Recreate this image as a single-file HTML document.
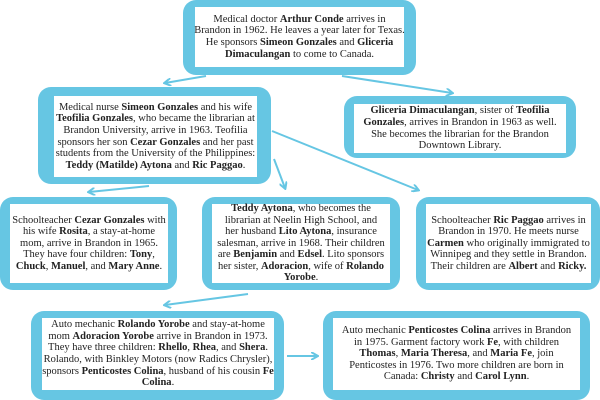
<!DOCTYPE html>
<html><head><style>
body{margin:0;width:600px;height:400px;background:#fff;position:relative;overflow:hidden;font-family:"Liberation Serif",serif;}
.b{position:absolute;background:#66c6e3;border-radius:13px;box-sizing:border-box;}
.i{position:absolute;background:#fff;display:flex;align-items:center;justify-content:center;text-align:center;font-size:10.5px;line-height:11.6px;color:#222;box-sizing:border-box;white-space:nowrap;}
.i span{display:block;}
b{font-weight:bold;}
svg{position:absolute;left:0;top:0;}
</style></head><body>
<svg width="600" height="400">
<defs><marker id="a" markerWidth="8" markerHeight="8" refX="6" refY="4" orient="auto" markerUnits="userSpaceOnUse"><path d="M0,0 L7,4 L0,8" fill="none" stroke="#66c6e3" stroke-width="2"/></marker></defs>
<g stroke="#66c6e3" stroke-width="2" fill="none" marker-end="url(#a)">
<line x1="206" y1="76" x2="165" y2="83"/>
<line x1="342" y1="76" x2="452" y2="93"/>
<line x1="272" y1="131" x2="418" y2="190"/>
<line x1="274" y1="159" x2="285" y2="188"/>
<line x1="149" y1="186" x2="89" y2="192"/>
<line x1="248" y1="294" x2="165" y2="305"/>
<line x1="287" y1="356" x2="317" y2="356"/>
</g></svg>

<div class="b" style="left:183px;top:0;width:233px;height:75px"></div>
<div class="i" style="left:195px;top:7px;width:209px;height:60px"><span>Medical doctor <b>Arthur Conde</b> arrives in<br>Brandon in 1962. He leaves a year later for Texas.<br>He sponsors <b>Simeon Gonzales</b> and <b>Gliceria</b><br><b>Dimaculangan</b> to come to Canada.</span></div>

<div class="b" style="left:38px;top:87px;width:233px;height:97px"></div>
<div class="i" style="left:54px;top:96px;width:203px;height:81px"><span>Medical nurse <b>Simeon Gonzales</b> and his wife<br><b>Teofilia Gonzales</b>, who became the librarian at<br>Brandon University, arrive in 1963. Teofilia<br>sponsors her son <b>Cezar Gonzales</b> and her past<br>students from the University of the Philippines:<br><b>Teddy (Matilde) Aytona</b> and <b>Ric Paggao</b>.</span></div>

<div class="b" style="left:344px;top:96px;width:232px;height:62px"></div>
<div class="i" style="left:354px;top:104px;width:212px;height:49px"><span><b>Gliceria Dimaculangan</b>, sister of <b>Teofilia</b><br><b>Gonzales</b>, arrives in Brandon in 1963 as well.<br>She becomes the librarian for the Brandon<br>Downtown Library.</span></div>

<div class="b" style="left:0;top:197px;width:177px;height:93px"></div>
<div class="i" style="left:10px;top:204px;width:158px;height:79px"><span>Schoolteacher <b>Cezar Gonzales</b> with<br>his wife <b>Rosita</b>, a stay-at-home<br>mom, arrive in Brandon in 1965.<br>They have four children: <b>Tony</b>,<br><b>Chuck</b>, <b>Manuel</b>, and <b>Mary Anne</b>.</span></div>

<div class="b" style="left:202px;top:197px;width:198px;height:93px"></div>
<div class="i" style="left:212px;top:204px;width:178px;height:79px"><span><b>Teddy Aytona</b>, who becomes the<br>librarian at Neelin High School, and<br>her husband <b>Lito Aytona</b>, insurance<br>salesman, arrive in 1968. Their children<br>are <b>Benjamin</b> and <b>Edsel</b>. Lito sponsors<br>her sister, <b>Adoracion</b>, wife of <b>Rolando</b><br><b>Yorobe</b>.</span></div>

<div class="b" style="left:416px;top:197px;width:184px;height:93px"></div>
<div class="i" style="left:426px;top:204px;width:165px;height:79px"><span>Schoolteacher <b>Ric Paggao</b> arrives in<br>Brandon in 1970. He meets nurse<br><b>Carmen</b> who originally immigrated to<br>Winnipeg and they settle in Brandon.<br>Their children are <b>Albert</b> and <b>Ricky.</b></span></div>

<div class="b" style="left:31px;top:311px;width:253px;height:89px"></div>
<div class="i" style="left:42px;top:318px;width:232px;height:72px"><span>Auto mechanic <b>Rolando Yorobe</b> and stay-at-home<br>mom <b>Adoracion Yorobe</b> arrive in Brandon in 1973.<br>They have three children: <b>Rhello</b>, <b>Rhea</b>, and <b>Shera</b>.<br>Rolando, with Binkley Motors (now Radics Chrysler),<br>sponsors <b>Penticostes Colina</b>, husband of his cousin <b>Fe</b><br><b>Colina</b>.</span></div>

<div class="b" style="left:323px;top:311px;width:267px;height:89px"></div>
<div class="i" style="left:333px;top:318px;width:247px;height:72px"><span>Auto mechanic <b>Penticostes Colina</b> arrives in Brandon<br>in 1975. Garment factory work <b>Fe</b>, with children<br><b>Thomas</b>, <b>Maria Theresa</b>, and <b>Maria Fe</b>, join<br>Penticostes in 1976. Two more children are born in<br>Canada: <b>Christy</b> and <b>Carol Lynn</b>.</span></div>
</body></html>
